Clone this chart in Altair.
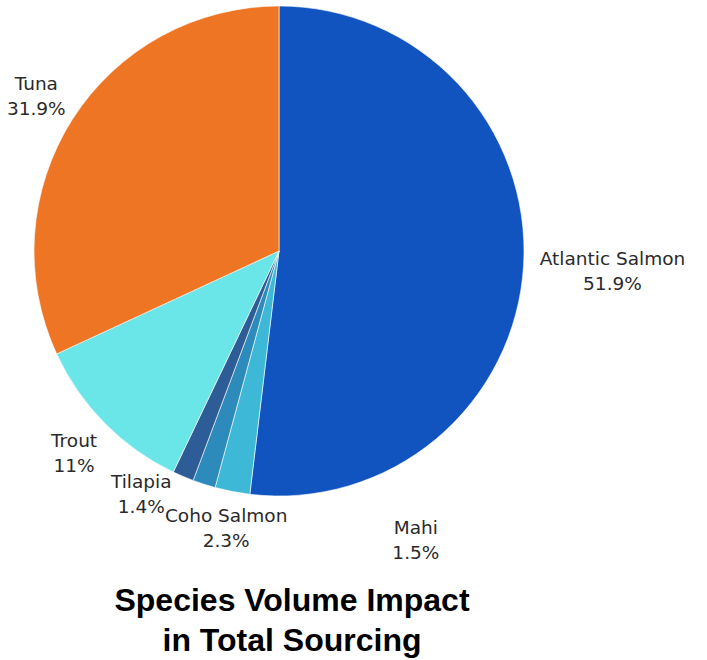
import altair as alt
import pandas as pd

species = ["Atlantic Salmon", "Coho Salmon", "Mahi", "Tilapia", "Trout", "Tuna"]
values = [51.9, 2.3, 1.5, 1.4, 11, 31.9]
colors = ["#1254BF", "#3DB8D6", "#2C8BBA", "#2D5C97", "#6AE5E8", "#EE7524"]

# label nudges (pixels) for labels moved away from their slice midpoint
nudges = {
    "Atlantic Salmon": (46, 3),
    "Coho Salmon": (2, -6),
    "Mahi": (225, 15),
    "Tilapia": (-25, -22),
    "Trout": (0, 0),
    "Tuna": (0, 0),
}
LINE_SHIFT = -12

total = sum(values)
df = pd.DataFrame({"species": species, "value": values, "order": list(range(len(species)))})

base = alt.Chart(df).transform_window(
    cum="sum(value)", sort=[alt.SortField("order")], frame=[None, 0]
).transform_calculate(
    start="datum.cum - datum.value",
    mid="datum.cum - datum.value / 2",
    label="datum.species + '\\n' + datum.value + '%'",
)

theta_scale = alt.Scale(domain=[0, total])

arcs = base.mark_arc(radius=245, stroke="white", strokeWidth=0.6).encode(
    theta=alt.Theta("start:Q", scale=theta_scale),
    theta2="cum:Q",
    color=alt.Color("species:N", scale=alt.Scale(domain=species, range=colors), legend=None),
)

layers = [arcs]
for sp in species:
    dx, dy = nudges[sp]
    layers.append(
        base.transform_filter(alt.datum.species == sp).mark_text(
            radius=288, dx=dx, dy=dy + LINE_SHIFT, align="center", baseline="middle",
            font="DejaVu Sans", fontSize=18.5, color="#2a2a2a", lineBreak="\n", lineHeight=25,
        ).encode(
            theta=alt.Theta("mid:Q", scale=theta_scale),
            text="label:N",
        )
    )

chart = alt.layer(*layers).properties(
    width=558,
    height=502,
    padding={"left": 0, "top": 0, "right": 149, "bottom": 158},
    autosize=alt.AutoSizeParams(type="none"),
    title=alt.Title(
        ["Species Volume Impact", "in Total Sourcing"],
        orient="bottom", anchor="middle", fontSize=32, font="Liberation Sans",
        fontWeight="bold", color="black", lineHeight=40, offset=23, dx=13,
    ),
).configure_view(stroke=None)

chart.save("out.html", embed_options={"renderer": "svg", "actions": False})
